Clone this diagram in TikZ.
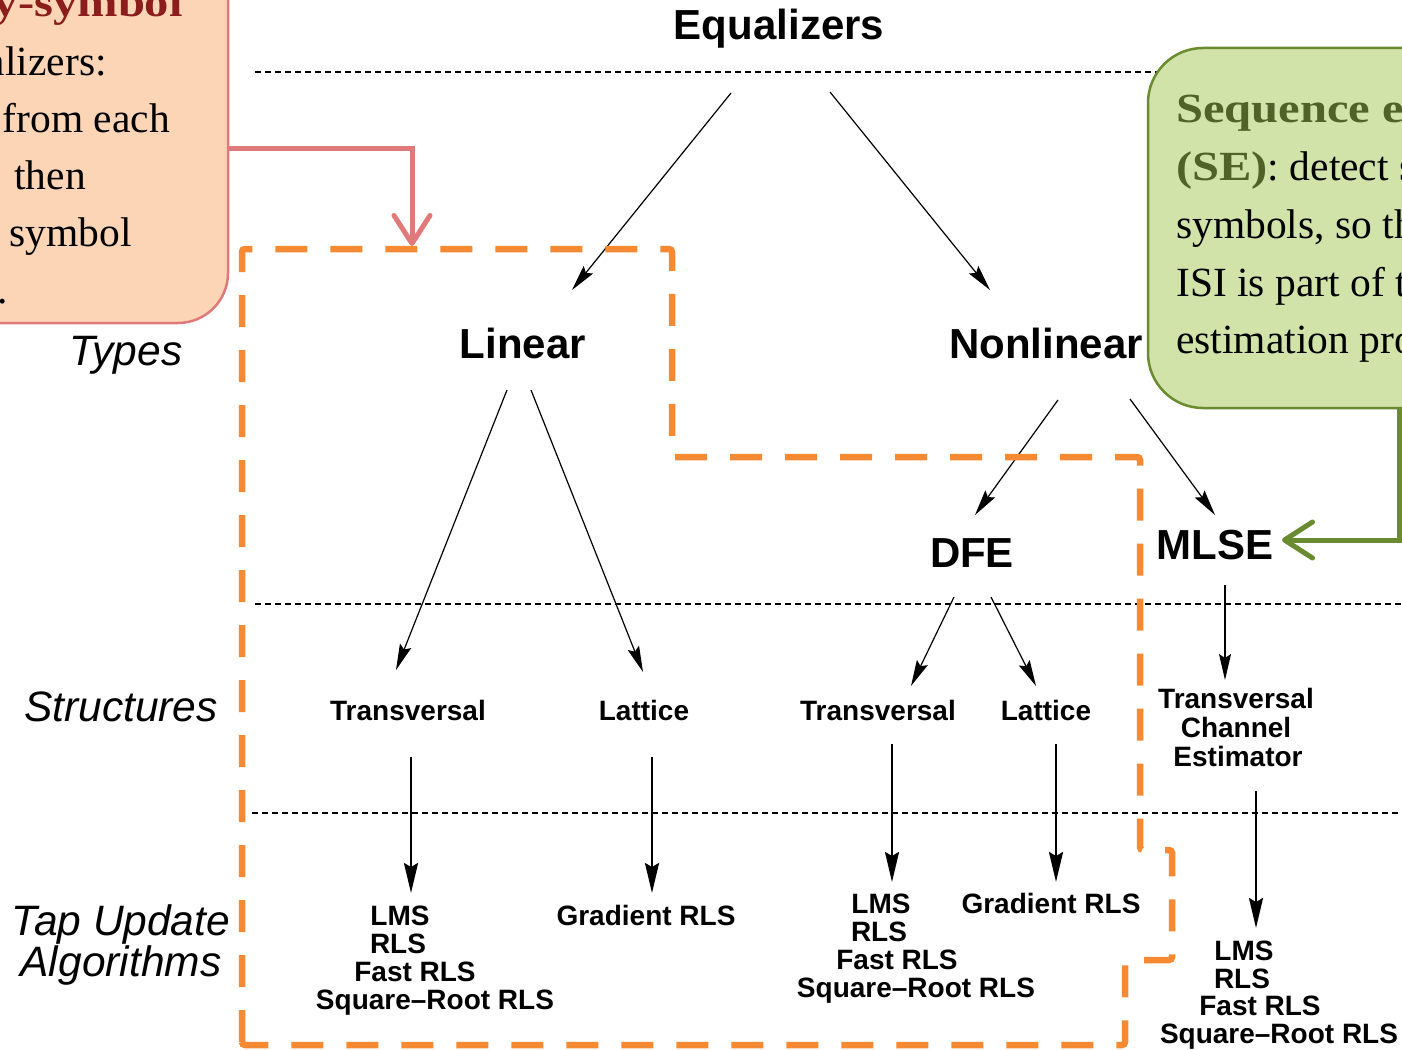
\documentclass[tikz,border=0pt]{standalone}
\usepackage{fontspec}
\setmainfont{Liberation Serif}
\setsansfont{Liberation Sans}
\newfontfamily\cbold[FakeStretch=1.17]{Liberation Serif Bold}
\usetikzlibrary{arrows.meta}
\definecolor{orng}{HTML}{F68A33}
\definecolor{pinkfill}{HTML}{FBD5B5}
\definecolor{pinkline}{HTML}{E07A7A}
\definecolor{darkred}{HTML}{8C1D1D}
\definecolor{greenfill}{HTML}{D2E3AA}
\definecolor{greenline}{HTML}{6A8B2F}
\definecolor{olivetext}{HTML}{4F6228}
\begin{document}
\begin{tikzpicture}[x=1pt,y=-1pt,
  big/.style={font=\fontsize{42}{50}\selectfont\sffamily\bfseries, inner sep=0pt, anchor=base},
  side/.style={font=\fontsize{42.5}{50}\selectfont\sffamily\itshape, inner sep=0pt, anchor=base},
  small/.style={font=\fontsize{28}{33}\selectfont\sffamily\bfseries, inner sep=0pt, anchor=base},
  callout/.style={font=\fontsize{41.5}{57}\selectfont\rmfamily, inner sep=0pt},
  thinarrow/.style={-{Stealth[length=26pt,width=12pt,inset=4pt]}, line width=1.2pt},
  thickarrow/.style={-{Stealth[length=30pt,width=14pt,inset=4pt]}, line width=2.4pt},
  sepline/.style={dash pattern=on 6pt off 4pt, line width=2.2pt},
  frame/.style={draw=orng, line width=6.5pt, dash pattern=on 32pt off 23pt, rounded corners=3pt},
  barb/.style={-{Straight Barb[length=28pt,width=36pt,round]}, line width=5pt}
]
\useasboundingbox (0,0) rectangle (1402,1049);
\clip (0,0) rectangle (1402,1049);
\fill[white] (0,0) rectangle (1402,1049);

% separators
\coordinate (h1a) at (255,72);  \coordinate (h1b) at (1402,72);
\coordinate (h2a) at (255,604); \coordinate (h2b) at (1402,604);
\coordinate (h3a) at (252,813); \coordinate (h3b) at (1402,813);
\draw[sepline] (h1a) -- (h1b);
\draw[sepline] (h2a) -- (h2b);
\draw[sepline] (h3a) -- (h3b);

% labels
\node[big] (eq) at (779,40) {Equalizers};
\node[big] (lin) at (523,358) {Linear};
\node[big] (nonlin) at (1046,358) {Nonlinear};
\node[big] (dfe) at (972,567) {DFE};
\node[big] (mlse) at (1215,559) {MLSE};

\node[side] (types) at (126,365) {Types};
\node[side] (struct) at (121,721) {Structures};
\node[side] (tap1) at (121,935) {Tap Update};
\node[side] (tap2) at (121,976) {Algorithms};

\node[small] (ltr) at (408,720) {Transversal};
\node[small] (llat) at (644,720) {Lattice};
\node[small] (dtr) at (878,720) {Transversal};
\node[small] (dlat) at (1046,720) {Lattice};
\node[small] (mtr1) at (1236,708) {Transversal};
\node[small] (mtr2) at (1236,737) {Channel};
\node[small] (mtr3) at (1238,766) {Estimator};

\node[small] (la1) at (400,925) {LMS};
\node[small] (la2) at (398,953) {RLS};
\node[small] (la3) at (415,981) {Fast RLS};
\node[small] (la4) at (435,1009) {Square–Root RLS};
\node[small] (lg) at (646,925) {Gradient RLS};

\node[small] (da1) at (881,913) {LMS};
\node[small] (da2) at (879,941) {RLS};
\node[small] (da3) at (897,969) {Fast RLS};
\node[small] (da4) at (916,997) {Square–Root RLS};
\node[small] (dg) at (1051,913) {Gradient RLS};

\node[small] (ma1) at (1244,960) {LMS};
\node[small] (ma2) at (1242,988) {RLS};
\node[small] (ma3) at (1260,1015) {Fast RLS};
\node[small] (ma4) at (1279,1043) {Square–Root RLS};

% thin arrows
\coordinate (s1) at (731,93);   \coordinate (e1) at (572,290);
\coordinate (s2) at (830,92);   \coordinate (e2) at (990,290);
\coordinate (s3) at (507,390);  \coordinate (e3) at (396,670);
\coordinate (s4) at (531,390);  \coordinate (e4) at (643,672);
\coordinate (s5) at (1058,400); \coordinate (e5) at (975,515);
\coordinate (s6) at (1130,399); \coordinate (e6) at (1215,515);
\coordinate (s7) at (954,597);  \coordinate (e7) at (911,686);
\coordinate (s8) at (991,597);  \coordinate (e8) at (1036,686);
\coordinate (s9) at (1225,585); \coordinate (e9) at (1225,680);
\draw[thinarrow] (s1) -- (e1);
\draw[thinarrow] (s2) -- (e2);
\draw[thinarrow] (s3) -- (e3);
\draw[thinarrow] (s4) -- (e4);
\draw[thinarrow] (s5) -- (e5);
\draw[thinarrow] (s6) -- (e6);
\draw[thinarrow] (s7) -- (e7);
\draw[thinarrow] (s8) -- (e8);
\draw[thinarrow] (s9) -- (e9);

% thick arrows
\coordinate (t1) at (411,757);  \coordinate (u1) at (411,893);
\coordinate (t2) at (652,757);  \coordinate (u2) at (652,893);
\coordinate (t3) at (892,744);  \coordinate (u3) at (892,882);
\coordinate (t4) at (1056,744); \coordinate (u4) at (1056,882);
\coordinate (t5) at (1256,791); \coordinate (u5) at (1256,928);
\draw[thickarrow] (t1) -- (u1);
\draw[thickarrow] (t2) -- (u2);
\draw[thickarrow] (t3) -- (u3);
\draw[thickarrow] (t4) -- (u4);
\draw[thickarrow] (t5) -- (u5);

% orange dashed frame
\draw[frame] (242,1045) -- (242,249) -- (672,249) -- (672,457) -- (1140,457)
  -- (1140,850) -- (1172,850) -- (1172,960) -- (1125,960) -- (1125,1045) -- cycle;

% pink callout
\draw[fill=pinkfill, draw=pinkline, line width=2.5pt, rounded corners=50pt] (-400,-100) rectangle (228,323);
\node[callout, anchor=base east] (p1) at (183,17) {\cbold\color{darkred}Symbol-by-symbol};
\node[callout, anchor=base east] (p2) at (107,75) {equalizers:};
\node[callout, anchor=base east] (p3) at (170,132) {remove ISI from each};
\node[callout, anchor=base east] (p4) at (86,189) {symbol and\hspace{8pt} then};
\node[callout, anchor=base east] (p5) at (132,246) {detect each symbol};
\node[callout, anchor=base east] (p6) at (8,303) {individually.};
\coordinate (pA) at (228,148);
\coordinate (pB) at (412,246);
\draw[pinkline, barb] (pA) -| (pB);

% green callout
\draw[fill=greenfill, draw=greenline, line width=2.5pt, rounded corners=55pt] (1148,48) rectangle (1800,408);
\node[callout, anchor=base west] (g1) at (1176,122) {\cbold\color{olivetext}Sequence estimation};
\node[callout, anchor=base west] (g2) at (1176,180) {{\cbold\color{olivetext}(SE)}: detect sequences of};
\node[callout, anchor=base west] (g3) at (1176,238) {symbols, so the effect of};
\node[callout, anchor=base west] (g4) at (1176,296) {ISI is part of the};
\node[callout, anchor=base west] (g5) at (1176,353) {estimation process.};
\coordinate (gA) at (1399,408);
\coordinate (gB) at (1282,540);
\draw[greenline, barb] (gA) |- (gB);
\end{tikzpicture}
\end{document}
